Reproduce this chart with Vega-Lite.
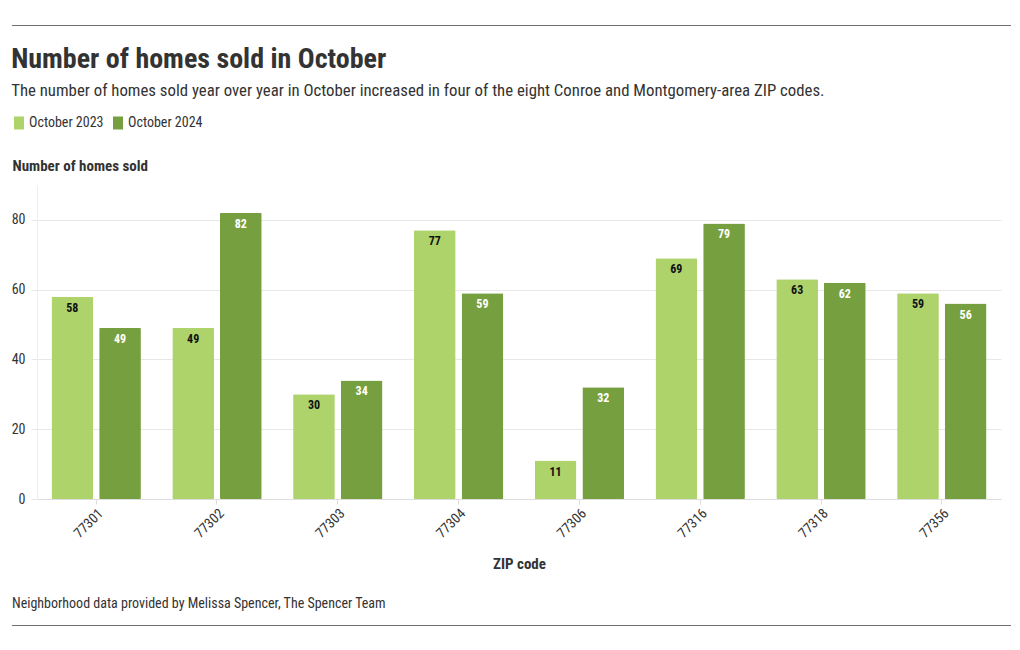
{
  "$schema": "https://vega.github.io/schema/vega-lite/v6.json",
  "padding": {"left": 11, "top": 25, "right": 10, "bottom": 0},
  "columns": 1,
  "align": "none",
  "spacing": 20,
  "resolve": {"legend": {"color": "independent"}},
  "config": {
    "font": "Roboto Condensed, Liberation Sans Narrow, Roboto, sans-serif",
    "view": {"stroke": null}
  },
  "concat": [
    {
      "width": 999,
      "height": 1,
      "view": {"fill": "#707070", "stroke": null},
      "data": {"values": []},
      "mark": "rule",
      "encoding": {}
    },
    {
      "width": 999,
      "height": 314,
      "title": {
        "text": "Number of homes sold in October",
        "subtitle": "The number of homes sold year over year in October increased in four of the eight Conroe and Montgomery-area ZIP codes.",
        "anchor": "start",
        "frame": "bounds",
        "fontSize": 28,
        "fontWeight": "bold",
        "color": "#333333",
        "subtitleFontSize": 16.8,
        "subtitleColor": "#333333",
        "subtitlePadding": 9,
        "offset": 16
      },
      "data": {
        "values": [
          {"zip": "77301", "year": "October 2023", "value": 58},
          {"zip": "77301", "year": "October 2024", "value": 49},
          {"zip": "77302", "year": "October 2023", "value": 49},
          {"zip": "77302", "year": "October 2024", "value": 82},
          {"zip": "77303", "year": "October 2023", "value": 30},
          {"zip": "77303", "year": "October 2024", "value": 34},
          {"zip": "77304", "year": "October 2023", "value": 77},
          {"zip": "77304", "year": "October 2024", "value": 59},
          {"zip": "77306", "year": "October 2023", "value": 11},
          {"zip": "77306", "year": "October 2024", "value": 32},
          {"zip": "77316", "year": "October 2023", "value": 69},
          {"zip": "77316", "year": "October 2024", "value": 79},
          {"zip": "77318", "year": "October 2023", "value": 63},
          {"zip": "77318", "year": "October 2024", "value": 62},
          {"zip": "77356", "year": "October 2023", "value": 59},
          {"zip": "77356", "year": "October 2024", "value": 56}
        ]
      },
      "encoding": {
        "x": {
          "field": "zip",
          "type": "nominal",
          "scale": {"range": [25, 989], "paddingInner": 0.26, "paddingOuter": 0.12},
          "axis": {
            "title": ["ZIP code", ""],
            "titleLineHeight": 5,
            "titleFontSize": 15,
            "titleFontWeight": "bold",
            "titleColor": "#333333",
            "titlePadding": 16,
            "labelAngle": -45,
            "labelFontSize": 14,
            "labelColor": "#333333",
            "tickSize": 5,
            "tickColor": "#dddddd",
            "domainColor": "#dddddd"
          }
        },
        "xOffset": {"field": "year", "type": "nominal", "scale": {"paddingInner": 0.125}},
        "y": {
          "field": "value",
          "type": "quantitative",
          "scale": {"domain": [0, 90], "nice": false},
          "axis": {
            "offset": -25,
            "title": "Number of homes sold",
            "titleAngle": 0,
            "titleAlign": "left",
            "titleBaseline": "alphabetic",
            "titleX": -25,
            "titleY": -15,
            "titleFontSize": 15,
            "titleFontWeight": "bold",
            "titleColor": "#333333",
            "labelFontSize": 14,
            "labelColor": "#333333",
            "labelPadding": 6,
            "tickSize": 6,
            "tickColor": "#e8e8e8",
            "values": [0, 20, 40, 60, 80],
            "domainColor": "#eeeeee",
            "gridColor": "#e8e8e8"
          }
        }
      },
      "layer": [
        {
          "mark": {"type": "bar", "cornerRadius": 1},
          "encoding": {
            "color": {
              "field": "year",
              "type": "nominal",
              "scale": {"domain": ["October 2023", "October 2024"], "range": ["#aed36b", "#76a03f"]},
              "legend": {
                "orient": "none",
                "legendX": 0,
                "legendY": -69,
                "direction": "horizontal",
                "title": null,
                "symbolType": "M-1,-1.3H1V1.3H-1Z",
                "symbolSize": 100,
                "symbolStrokeWidth": 0,
                "symbolOpacity": 1,
                "labelFontSize": 14,
                "labelColor": "#333333",
                "labelOffset": 3,
                "columnPadding": 7
              }
            }
          }
        },
        {
          "mark": {"type": "text", "baseline": "top", "dy": 6, "fontWeight": "bold", "fontSize": 12},
          "encoding": {
            "text": {"field": "value", "type": "quantitative"},
            "color": {
              "condition": {"test": "datum.year === 'October 2023'", "value": "#111111"},
              "value": "#ffffff"
            }
          }
        }
      ]
    },
    {
      "width": 999,
      "height": 1,
      "view": {"fill": "#707070", "stroke": null},
      "title": {
        "text": "Neighborhood data provided by Melissa Spencer, The Spencer Team",
        "anchor": "start",
        "frame": "bounds",
        "fontSize": 14,
        "fontWeight": "normal",
        "color": "#333333",
        "offset": 14
      },
      "data": {"values": []},
      "mark": "rule",
      "encoding": {}
    }
  ]
}
